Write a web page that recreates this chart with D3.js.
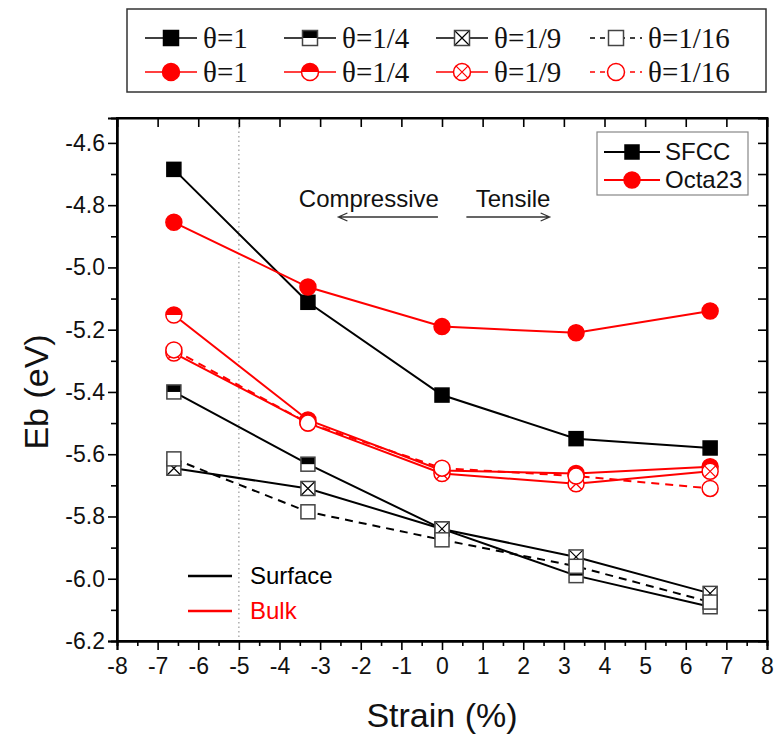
<!DOCTYPE html>
<html>
<head>
<meta charset="utf-8">
<script src="https://cdn.jsdelivr.net/npm/d3@7"></script>
<style>
  body { margin: 0; background: #fff; }
  svg { display: block; }
</style>
</head>
<body>
<svg id="chart" width="777" height="738"></svg>
<script>
// strain values (%) shared by every series
const strain = [-6.6, -3.3, 0, 3.3, 6.6];
const coverage = ['θ=1', 'θ=1/4', 'θ=1/9', 'θ=1/16'];

// SFCC (black squares)
const sfcc1 = [-4.685, -5.112, -5.41, -5.55, -5.58];
const sfcc4 = [-5.40, -5.632, -5.84, -5.99, -6.09];
const sfcc9 = [-5.645, -5.71, -5.84, -5.93, -6.047];
const sfcc16 = [-5.615, -5.785, -5.875, -5.96, -6.075];

// Octa23 (red circles)
const octa1 = [-4.855, -5.063, -5.19, -5.21, -5.14];
const octa4 = [-5.153, -5.49, -5.652, -5.662, -5.64];
const octa9 = [-5.275, -5.50, -5.662, -5.695, -5.655];
const octa16 = [-5.265, -5.50, -5.645, -5.67, -5.71];

const xTicks = d3.range(-8, 9, 1);
const yTicks = [-6.2, -6.0, -5.8, -5.6, -5.4, -5.2, -5.0, -4.8, -4.6];

const svg = d3.select('#chart');
const sans = '"Liberation Sans", Arial, sans-serif';
const serif = '"Liberation Serif", "Times New Roman", serif';
const RED = '#ff0000';

const x = d3.scaleLinear().domain([-8, 8]).range([117, 767]);
const y = d3.scaleLinear().domain([-6.2, -4.52]).range([641, 118]);

// series setup: shape, fill style, colour, dashed
const series = [
  { vals: sfcc1, shape: 'square', style: 'filled', color: '#000', dash: false },
  { vals: sfcc4, shape: 'square', style: 'half', color: '#000', dash: false },
  { vals: sfcc9, shape: 'square', style: 'cross', color: '#000', dash: false },
  { vals: sfcc16, shape: 'square', style: 'open', color: '#000', dash: true },
  { vals: octa1, shape: 'circle', style: 'filled', color: RED, dash: false },
  { vals: octa4, shape: 'circle', style: 'half', color: RED, dash: false },
  { vals: octa9, shape: 'circle', style: 'cross', color: RED, dash: false },
  { vals: octa16, shape: 'circle', style: 'open', color: RED, dash: true }
];

function marker(g, shape, style, color, cx, cy, s) {
  const h = s / 2;
  if (shape === 'square') {
    g.append('rect').attr('x', cx - h).attr('y', cy - h).attr('width', s).attr('height', s)
      .attr('fill', style === 'filled' ? color : '#fff');
    if (style === 'half') {
      g.append('rect').attr('x', cx - h).attr('y', cy - h).attr('width', s).attr('height', h)
        .attr('fill', color);
    }
    if (style === 'cross') {
      g.append('path').attr('d', `M${cx - h},${cy - h}L${cx + h},${cy + h}M${cx + h},${cy - h}L${cx - h},${cy + h}`)
        .attr('stroke', color).attr('stroke-width', 1.2).attr('fill', 'none');
    }
    g.append('rect').attr('x', cx - h).attr('y', cy - h).attr('width', s).attr('height', s)
      .attr('fill', 'none').attr('stroke', style === 'filled' ? color : '#444').attr('stroke-width', 1.5);
  } else {
    g.append('circle').attr('cx', cx).attr('cy', cy).attr('r', h)
      .attr('fill', style === 'filled' ? color : '#fff');
    if (style === 'half') {
      g.append('path').attr('d', `M${cx - h},${cy}A${h},${h} 0 0 1 ${cx + h},${cy}Z`).attr('fill', color);
    }
    if (style === 'cross') {
      const k = h * 0.72;
      g.append('path').attr('d', `M${cx - k},${cy - k}L${cx + k},${cy + k}M${cx + k},${cy - k}L${cx - k},${cy + k}`)
        .attr('stroke', color).attr('stroke-width', 1.2).attr('fill', 'none');
    }
    g.append('circle').attr('cx', cx).attr('cy', cy).attr('r', h)
      .attr('fill', 'none').attr('stroke', color).attr('stroke-width', 1.5);
  }
}

// dotted reference line at -5 %
svg.append('line')
  .attr('x1', x(-5)).attr('x2', x(-5)).attr('y1', y(-4.52)).attr('y2', y(-6.2))
  .attr('stroke', '#999').attr('stroke-width', 1.2).attr('stroke-dasharray', '1.5,3');

// lines
const line = d3.line().x((d, i) => x(strain[i])).y(d => y(d));
series.forEach(s => {
  svg.append('path').datum(s.vals)
    .attr('d', line)
    .attr('fill', 'none')
    .attr('stroke', s.color)
    .attr('stroke-width', 2)
    .attr('stroke-dasharray', s.dash ? '8,6' : null);
});

// markers
series.forEach(s => {
  const g = svg.append('g');
  s.vals.forEach((v, i) => {
    marker(g, s.shape, s.style, s.color, x(strain[i]), y(v), s.shape === 'square' ? 14 : 16);
  });
});

// axes (plain hyphen for minus, like the original)
const axBottom = svg.append('g').attr('transform', `translate(0,${y(-6.2)})`);
axBottom.call(d3.axisBottom(x).tickValues(d3.range(-7.5, 8, 1)).tickSize(5).tickFormat(''));
axBottom.append('g').call(d3.axisBottom(x).tickValues(xTicks).tickSize(9).tickFormat(d => String(d)));

const axLeft = svg.append('g').attr('transform', `translate(${x(-8)},0)`);
axLeft.call(d3.axisLeft(y).tickValues(d3.range(-6.1, -4.55, 0.2)).tickSize(6).tickFormat(''));
axLeft.append('g').call(d3.axisLeft(y).tickValues(yTicks).tickSize(9).tickFormat(d => d.toFixed(1)));

const axTop = svg.append('g').attr('transform', `translate(0,${y(-4.52)})`);
axTop.call(d3.axisBottom(x).tickValues(d3.range(-7, 8, 1)).tickSize(9).tickFormat(''));

const axRight = svg.append('g').attr('transform', `translate(${x(8)},0)`);
axRight.call(d3.axisLeft(y).tickValues(d3.range(-6.1, -4.55, 0.1)).tickSize(9).tickFormat(''));

svg.selectAll('.domain').attr('stroke', '#000').attr('stroke-width', 2);
svg.selectAll('.tick line').attr('stroke', '#000').attr('stroke-width', 1.6);
svg.selectAll('.tick text').attr('font-family', sans).attr('font-size', 23).attr('fill', '#111');
axBottom.selectAll('.tick text').attr('dy', '0.9em');

// frame
svg.append('rect')
  .attr('x', x(-8)).attr('y', y(-4.52))
  .attr('width', x(8) - x(-8)).attr('height', y(-6.2) - y(-4.52))
  .attr('fill', 'none').attr('stroke', '#000').attr('stroke-width', 2);

// axis titles
svg.append('text').attr('x', x(0)).attr('y', 727).attr('text-anchor', 'middle')
  .attr('font-family', sans).attr('font-size', 34).attr('fill', '#111').text('Strain (%)');
svg.append('text').attr('transform', `translate(48,${y(-5.4)}) rotate(-90)`).attr('text-anchor', 'middle')
  .attr('font-family', sans).attr('font-size', 34).attr('fill', '#111').text('Eb (eV)');

// compressive / tensile annotation
svg.append('text').attr('x', x(-1.8)).attr('y', 207).attr('text-anchor', 'middle')
  .attr('font-family', sans).attr('font-size', 24).attr('fill', '#111').text('Compressive');
svg.append('text').attr('x', x(1.75)).attr('y', 207).attr('text-anchor', 'middle')
  .attr('font-family', sans).attr('font-size', 24).attr('fill', '#111').text('Tensile');
function arrow(x1, x2, yy) {
  const dir = x2 > x1 ? -1 : 1;
  svg.append('path')
    .attr('d', `M${x1},${yy}L${x2},${yy}M${x2 + dir * 9},${yy - 4}L${x2},${yy}L${x2 + dir * 9},${yy + 4}`)
    .attr('fill', 'none').attr('stroke', '#333').attr('stroke-width', 1.3);
}
arrow(x(-0.1), x(-2.55), 217);
arrow(x(0.6), x(2.65), 217);

// surface / bulk key
[['Surface', '#000', 576], ['Bulk', RED, 611]].forEach(([t, c, yy]) => {
  svg.append('line').attr('x1', 188).attr('x2', 232).attr('y1', yy).attr('y2', yy)
    .attr('stroke', c).attr('stroke-width', 2.5);
  svg.append('text').attr('x', 250).attr('y', yy).attr('dy', '0.35em')
    .attr('font-family', sans).attr('font-size', 24).attr('fill', c).text(t);
});

// SFCC / Octa23 inset legend
svg.append('rect').attr('x', 597).attr('y', 132).attr('width', 151).attr('height', 63)
  .attr('fill', '#fff').attr('stroke', '#888').attr('stroke-width', 1.2);
[['SFCC', 'square', '#000', 152], ['Octa23', 'circle', RED, 180]].forEach(([t, sh, c, yy]) => {
  svg.append('line').attr('x1', 604).attr('x2', 660).attr('y1', yy).attr('y2', yy)
    .attr('stroke', c).attr('stroke-width', 2);
  marker(svg.append('g'), sh, 'filled', c, 632, yy, sh === 'square' ? 14 : 16);
  svg.append('text').attr('x', 665).attr('y', yy).attr('dy', '0.35em')
    .attr('font-family', sans).attr('font-size', 24).attr('fill', '#111').text(t);
});

// top coverage legend
svg.append('rect').attr('x', 127).attr('y', 9).attr('width', 639).attr('height', 83)
  .attr('fill', '#fff').attr('stroke', '#333').attr('stroke-width', 1.5);
const legX = [145, 284, 436, 590];
series.forEach((s, i) => {
  const col = i % 4;
  const yy = i < 4 ? 38 : 72;
  const x0 = legX[col];
  svg.append('line').attr('x1', x0).attr('x2', x0 + 52).attr('y1', yy).attr('y2', yy)
    .attr('stroke', s.color).attr('stroke-width', 1.5)
    .attr('stroke-dasharray', s.dash ? '5,5' : null);
  marker(svg.append('g'), s.shape, s.style, s.color, x0 + 26, yy, s.shape === 'square' ? 15 : 17);
  svg.append('text').attr('x', x0 + 58).attr('y', yy).attr('dy', '0.35em')
    .attr('font-family', serif).attr('font-size', 29).attr('fill', '#111').text(coverage[col]);
});
</script>
</body>
</html>
